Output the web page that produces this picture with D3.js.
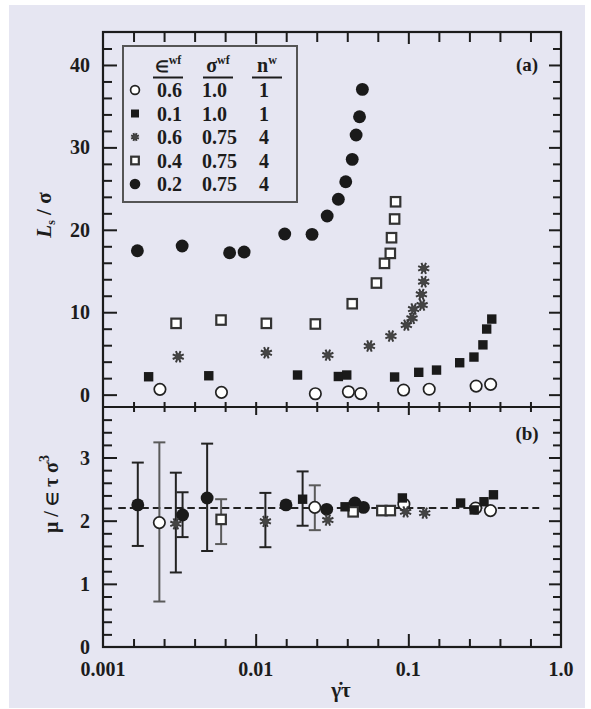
<!DOCTYPE html>
<html>
<head>
<meta charset="utf-8">
<script src="https://cdn.jsdelivr.net/npm/d3@7/dist/d3.min.js"></script>
<style>
  body { margin: 0; background: #fff; }
  text { font-family: "Liberation Serif", "Times New Roman", serif; font-weight: bold; fill: #1c1c1c; }
</style>
</head>
<body>
<script>
// ---- panel (a): L_s / sigma versus shear rate -------------------------------
const openCircleX   = [0.00236, 0.00597, 0.0246, 0.0405, 0.0488, 0.0931, 0.137, 0.278, 0.346];
const openCircleY   = [0.64, 0.28, 0.11, 0.35, 0.13, 0.56, 0.66, 1.04, 1.25];
const filledSquareX = [0.00199, 0.00493, 0.0188, 0.0348, 0.0395, 0.0813, 0.117, 0.153, 0.217, 0.269, 0.308, 0.326, 0.352];
const filledSquareY = [2.17, 2.29, 2.38, 2.20, 2.38, 2.14, 2.71, 2.98, 3.87, 4.56, 6.04, 7.96, 9.17];
const asteriskX     = [0.00311, 0.01175, 0.0297, 0.0556, 0.0769, 0.0971, 0.1057, 0.1083, 0.1231, 0.1218, 0.1261, 0.1261];
const asteriskY     = [4.60, 5.08, 4.80, 5.90, 7.11, 8.44, 9.26, 10.39, 10.87, 12.17, 13.70, 15.32];
const openSquareX   = [0.00301, 0.00593, 0.01175, 0.0246, 0.0429, 0.0618, 0.0698, 0.0762, 0.0776, 0.0813, 0.0825];
const openSquareY   = [8.65, 9.05, 8.65, 8.57, 11.03, 13.54, 15.93, 17.14, 19.04, 21.31, 23.40];
const filledCircleX = [0.00168, 0.00330, 0.00675, 0.00840, 0.0155, 0.0234, 0.0294, 0.0348, 0.0389, 0.0429, 0.0455, 0.0479, 0.0500];
const filledCircleY = [17.46, 18.03, 17.22, 17.30, 19.49, 19.45, 21.67, 23.70, 25.83, 28.55, 31.50, 33.72, 37.04];

// ---- panel (b): viscosity, with error bars where drawn -----------------------
const openCircleBX   = [0.00234, 0.0244, 0.0935, 0.276, 0.345];
const openCircleBY   = [1.97, 2.21, 2.26, 2.20, 2.16];
const openCircleBErr = [[0.72, 3.24], [1.85, 2.56], null, null, null];
const filledSquareBX   = [0.0203, 0.0385, 0.0914, 0.220, 0.270, 0.313, 0.361];
const filledSquareBY   = [2.34, 2.22, 2.36, 2.28, 2.17, 2.30, 2.41];
const filledSquareBErr = [[1.92, 2.78], null, null, null, null, null, null];
const asteriskBX   = [0.00300, 0.01158, 0.0297, 0.0960, 0.128];
const asteriskBY   = [1.95, 1.99, 2.01, 2.14, 2.12];
const asteriskBErr = [[1.18, 2.76], [1.58, 2.44], null, null, null];
const openSquareBX   = [0.00594, 0.0435, 0.0671, 0.0762];
const openSquareBY   = [2.02, 2.14, 2.16, 2.16];
const openSquareBErr = [[1.63, 2.34], null, null, null];
const filledCircleBX   = [0.00169, 0.00332, 0.00481, 0.0158, 0.0292, 0.0447, 0.0508];
const filledCircleBY   = [2.25, 2.09, 2.36, 2.25, 2.18, 2.28, 2.21];
const filledCircleBErr = [[1.60, 2.92], [1.74, 2.45], [1.52, 3.22], null, null, null, null];
const viscosityFit = 2.2;
const fitRange = [0.00126, 0.72];

// ---- legend and tick labels --------------------------------------------------
const legendEps   = ['0.6', '0.1', '0.6', '0.4', '0.2'];
const legendSigma = ['1.0', '1.0', '0.75', '0.75', '0.75'];
const legendN     = ['1', '1', '4', '4', '4'];
const legendKinds = ['openCircle', 'filledSquare', 'asterisk', 'openSquare', 'filledCircle'];
const xLabelValues = [0.001, 0.01, 0.1, 1];
const xLabelTexts  = ['0.001', '0.01', '0.1', '1.0'];
const yaLabels = [0, 10, 20, 30, 40];
const ybLabels = [0, 1, 2, 3];

// ---- layout -----------------------------------------------------------------
const W = 591, H = 709;
const pLeft = 103, pRight = 561, pTop = 32, pMid = 407, pBottom = 647;
const ink = '#1c1c1c';

const svg = d3.select('body').append('svg').attr('width', W).attr('height', H);
svg.append('rect').attr('x', 9).attr('y', 5).attr('width', 576).attr('height', 703).attr('fill', '#e6e6f2');

const x = d3.scaleLog().domain([0.001, 1]).range([pLeft, pRight]);
const ya = d3.scaleLinear().domain([-1.5, 44]).range([pMid, pTop]);
const yb = d3.scaleLinear().domain([0, 3.8]).range([pBottom, pMid]);

// ticks every 0.2 decade, longer on the decades
const xTicks = d3.range(1, 15).map(i => Math.pow(10, -3 + i * 0.2));
const isDecade = v => Math.abs(Math.log10(v) - Math.round(Math.log10(v))) < 1e-6;
const xMinor = xTicks.filter(v => !isDecade(v));
const xMajor = xTicks.filter(isDecade);
const yaMinor = d3.range(2, 43, 2).filter(v => v % 10 !== 0);
const yaMajor = [0, 10, 20, 30, 40];
const ybMinor = d3.range(1, 19).map(i => +(i * 0.2).toFixed(1)).filter(v => v % 1 !== 0);
const ybMajor = [1, 2, 3];

function tickRow(axisFn, scale, values, size, tx, ty) {
  svg.append('g')
    .attr('transform', 'translate(' + tx + ',' + ty + ')')
    .attr('color', ink)
    .call(axisFn(scale).tickValues(values).tickSize(size).tickFormat(''))
    .call(g => g.select('.domain').remove())
    .selectAll('line').attr('stroke-width', 2);
}

// x ticks: top, middle (both sides), bottom
tickRow(d3.axisTop, x, xMinor, -10, 0, pTop);
tickRow(d3.axisTop, x, xMajor, -12, 0, pTop);
tickRow(d3.axisTop, x, xTicks, 5, 0, pMid);
tickRow(d3.axisBottom, x, xMinor, 5, 0, pMid);
tickRow(d3.axisBottom, x, xMajor, 8, 0, pMid);
tickRow(d3.axisBottom, x, xMinor, -8, 0, pBottom);
tickRow(d3.axisBottom, x, xMajor, -13, 0, pBottom);
// y ticks, left and right
tickRow(d3.axisLeft, ya, yaMinor, -9, pLeft, 0);
tickRow(d3.axisLeft, ya, yaMajor, -14, pLeft, 0);
tickRow(d3.axisRight, ya, yaMinor, -8, pRight, 0);
tickRow(d3.axisRight, ya, yaMajor, -12, pRight, 0);
tickRow(d3.axisLeft, yb, ybMinor, -9, pLeft, 0);
tickRow(d3.axisLeft, yb, ybMajor, -14, pLeft, 0);
tickRow(d3.axisRight, yb, ybMinor, -8, pRight, 0);
tickRow(d3.axisRight, yb, ybMajor, -12, pRight, 0);

// frame
const frame = svg.append('g').attr('stroke', ink).attr('stroke-width', 2.2).attr('fill', 'none');
frame.append('rect').attr('x', pLeft).attr('y', pTop).attr('width', pRight - pLeft).attr('height', pBottom - pTop);
frame.append('line').attr('x1', pLeft).attr('x2', pRight).attr('y1', pMid).attr('y2', pMid);

// tick labels
svg.append('g').selectAll('text').data(xLabelValues).join('text')
  .attr('x', d => x(d)).attr('y', 676).attr('text-anchor', 'middle')
  .attr('font-size', 20).text((d, i) => xLabelTexts[i]);
svg.append('g').selectAll('text').data(yaLabels).join('text')
  .attr('x', 90).attr('y', d => ya(d) + 7).attr('text-anchor', 'end')
  .attr('font-size', 20).text(d => d);
svg.append('g').selectAll('text').data(ybLabels).join('text')
  .attr('x', 90).attr('y', d => yb(d) + 7).attr('text-anchor', 'end')
  .attr('font-size', 20).text(d => d);

// axis titles
const ta = svg.append('text').attr('transform', 'translate(51,215) rotate(-90)')
  .attr('text-anchor', 'middle').attr('font-size', 21);
ta.append('tspan').attr('font-style', 'italic').text('L');
ta.append('tspan').attr('font-size', 12).attr('dy', 4).text('s');
ta.append('tspan').attr('dy', -4).text(' / σ');

const tb = svg.append('text').attr('transform', 'translate(58,494) rotate(-90)')
  .attr('text-anchor', 'middle').attr('font-size', 20);
tb.append('tspan').text('μ / ');
tb.append('tspan').attr('font-size', 16).text('∈');
tb.append('tspan').text(' τ σ');
tb.append('tspan').attr('font-size', 14).attr('dy', -9).text('3');

svg.append('text').attr('x', 341).attr('y', 697).attr('text-anchor', 'middle')
  .attr('font-size', 21).text('γ̇τ');

svg.append('text').attr('x', 527).attr('y', 71).attr('text-anchor', 'middle').attr('font-size', 19).text('(a)');
svg.append('text').attr('x', 527).attr('y', 440).attr('text-anchor', 'middle').attr('font-size', 19).text('(b)');

// ---- markers ----------------------------------------------------------------
function marker(g, kind, cx, cy, s) {
  if (kind === 'openCircle') {
    g.append('circle').attr('cx', cx).attr('cy', cy).attr('r', s * 0.52)
      .attr('fill', '#fff').attr('stroke', '#222').attr('stroke-width', 1.7);
  } else if (kind === 'filledCircle') {
    g.append('circle').attr('cx', cx).attr('cy', cy).attr('r', s * 0.56).attr('fill', '#1a1a1a');
  } else if (kind === 'filledSquare') {
    g.append('rect').attr('x', cx - s * 0.47).attr('y', cy - s * 0.47)
      .attr('width', s * 0.94).attr('height', s * 0.94).attr('fill', '#1a1a1a');
  } else if (kind === 'openSquare') {
    g.append('rect').attr('x', cx - s * 0.45).attr('y', cy - s * 0.45)
      .attr('width', s * 0.9).attr('height', s * 0.9)
      .attr('fill', '#fff').attr('stroke', '#333').attr('stroke-width', 2.2);
  } else if (kind === 'asterisk') {
    const r = s * 0.5, p = d3.path();
    for (let k = 0; k < 4; k++) {
      const a = k * Math.PI / 4 + Math.PI / 8;
      p.moveTo(cx - r * Math.cos(a), cy - r * Math.sin(a));
      p.lineTo(cx + r * Math.cos(a), cy + r * Math.sin(a));
    }
    g.append('path').attr('d', p.toString()).attr('stroke', '#3a3a3a').attr('stroke-width', 2).attr('fill', 'none');
    g.append('circle').attr('cx', cx).attr('cy', cy).attr('r', s * 0.28).attr('fill', '#444');
  }
}

const seriesA = [
  { kind: 'openCircle', xs: openCircleX, ys: openCircleY, s: 11 },
  { kind: 'filledSquare', xs: filledSquareX, ys: filledSquareY, s: 10 },
  { kind: 'asterisk', xs: asteriskX, ys: asteriskY, s: 12 },
  { kind: 'openSquare', xs: openSquareX, ys: openSquareY, s: 10.5 },
  { kind: 'filledCircle', xs: filledCircleX, ys: filledCircleY, s: 11.5 }
];
const gA = svg.append('g');
seriesA.forEach(sr => sr.xs.forEach((v, i) => marker(gA, sr.kind, x(v), ya(sr.ys[i]), sr.s)));

// panel (b): fit line, error bars, then markers
svg.append('line')
  .attr('x1', x(fitRange[0])).attr('x2', x(fitRange[1]))
  .attr('y1', yb(viscosityFit)).attr('y2', yb(viscosityFit))
  .attr('stroke', '#222').attr('stroke-width', 2).attr('stroke-dasharray', '7.5,4');

const seriesB = [
  { kind: 'filledCircle', xs: filledCircleBX, ys: filledCircleBY, err: filledCircleBErr, s: 11.5, c: '#222' },
  { kind: 'openCircle', xs: openCircleBX, ys: openCircleBY, err: openCircleBErr, s: 11, c: '#5a5a5a' },
  { kind: 'asterisk', xs: asteriskBX, ys: asteriskBY, err: asteriskBErr, s: 12, c: '#222' },
  { kind: 'openSquare', xs: openSquareBX, ys: openSquareBY, err: openSquareBErr, s: 10.5, c: '#5a5a5a' },
  { kind: 'filledSquare', xs: filledSquareBX, ys: filledSquareBY, err: filledSquareBErr, s: 10, c: '#222' }
];
const gErr = svg.append('g').attr('stroke-width', 2);
seriesB.forEach(sr => sr.xs.forEach((v, i) => {
  const e = sr.err[i];
  if (!e) return;
  const cx = x(v);
  gErr.append('line').attr('x1', cx).attr('x2', cx).attr('y1', yb(e[0])).attr('y2', yb(e[1])).attr('stroke', sr.c);
  e.forEach(ev => gErr.append('line').attr('x1', cx - 6).attr('x2', cx + 6)
    .attr('y1', yb(ev)).attr('y2', yb(ev)).attr('stroke', sr.c));
}));
const gB = svg.append('g');
seriesB.forEach(sr => sr.xs.forEach((v, i) => marker(gB, sr.kind, x(v), yb(sr.ys[i]), sr.s)));

// ---- legend -----------------------------------------------------------------
const lg = svg.append('g');
lg.append('rect').attr('x', 123).attr('y', 46).attr('width', 174).attr('height', 156)
  .attr('fill', 'none').attr('stroke', '#555').attr('stroke-width', 2);
const headers = [
  { main: '∈', size: 16, sup: 'wf', cx: 168 },
  { main: 'σ', size: 20, sup: 'wf', cx: 218 },
  { main: 'n', size: 20, sup: 'w', cx: 267 }
];
headers.forEach(h => {
  const t = lg.append('text').attr('x', h.cx).attr('y', 72).attr('text-anchor', 'middle').attr('font-size', 20);
  t.append('tspan').attr('font-size', h.size).text(h.main);
  t.append('tspan').attr('font-size', 12).attr('dy', -8).text(h.sup);
  lg.append('line').attr('x1', h.cx - 15).attr('x2', h.cx + 15).attr('y1', 77.5).attr('y2', 77.5)
    .attr('stroke', ink).attr('stroke-width', 2);
});
legendKinds.forEach((k, i) => {
  const cy = 90 + i * 23.5;
  marker(lg, k, 135, cy, k === 'filledCircle' ? 9.5 : 8.5);
  lg.append('text').attr('x', 157).attr('y', cy + 7).attr('font-size', 20).text(legendEps[i]);
  lg.append('text').attr('x', 202).attr('y', cy + 7).attr('font-size', 20).text(legendSigma[i]);
  lg.append('text').attr('x', 264).attr('y', cy + 7).attr('text-anchor', 'middle').attr('font-size', 20).text(legendN[i]);
});
</script>
</body>
</html>
